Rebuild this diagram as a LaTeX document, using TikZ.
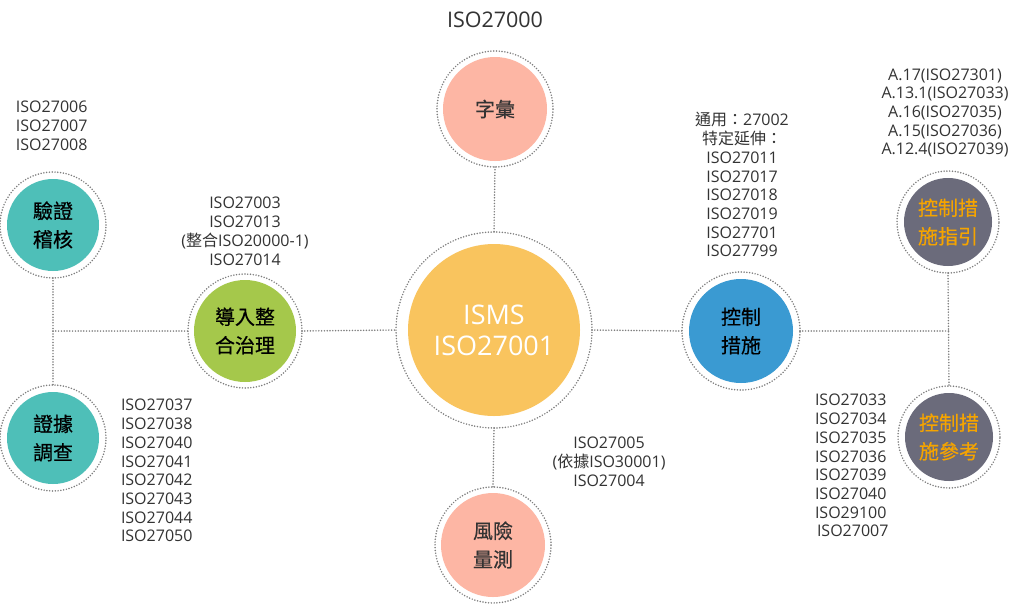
\documentclass[tikz,border=0pt]{standalone}
\usepackage{fontspec}
\setmainfont{Open Sans}
\newfontfamily\cjk{Noto Sans CJK TC}
\newfontfamily\cjkb[FakeBold=0.45]{Noto Sans CJK TC}
\definecolor{txtc}{HTML}{333333}
\definecolor{dotc}{HTML}{7E7E7E}
\definecolor{cC}{HTML}{F9C45E}
\definecolor{cS}{HTML}{FDB6A4}
\definecolor{cT}{HTML}{4EBFB8}
\definecolor{cG}{HTML}{A5C84B}
\definecolor{cB}{HTML}{3A9AD2}
\definecolor{cD}{HTML}{6B6B7B}
\definecolor{cO}{HTML}{F5A400}
\begin{document}
\begin{tikzpicture}[x=1pt,y=-1pt,
  txt/.style={text=txtc, inner sep=0pt, outer sep=0pt, font=\fontsize{16}{18.7}\selectfont},
  disc/.style={circle, fill=#1, inner sep=0pt, outer sep=0pt},
  ctext/.style={font=\cjkb\fontsize{20}{28.5}\selectfont, align=center},
  ringnode/.style={circle, draw=dotc, line width=1.7pt, dash pattern=on 0pt off 2.8pt, line cap=round, inner sep=0pt, outer sep=0pt},
  link/.style={draw=dotc, line width=1.7pt, dash pattern=on 0pt off 2.8pt, line cap=round},
]
\useasboundingbox[fill=white] (0,0) rectangle (1024,606);

% title
\node[txt, font=\fontsize{21.5}{24}\selectfont] (title) at (495,20) {ISO27000};

% central
\node[ringnode, minimum size=196pt] (rC) at (494,330) {};
\node[disc=cC, minimum size=172pt, text=white, font=\fontsize{27}{31}\selectfont, align=center] (C) at (494,330) {ISMS\\ISO27001};

% top
\node[ringnode, minimum size=116pt] (rT) at (495,109) {};
\node[disc=cS, minimum size=104pt, text=txtc, ctext] (T) at (495,109) {字彙};

% bottom
\node[ringnode, minimum size=116pt] (rB) at (493,545) {};
\node[disc=cS, minimum size=104pt, text=txtc, ctext] (B) at (493,545) {風險\\量測};

% left top
\node[ringnode, minimum size=106pt] (rV) at (53,225) {};
\node[disc=cT, minimum size=92pt, text=black, ctext] (V) at (53,225) {驗證\\稽核};

% left bottom
\node[ringnode, minimum size=106pt] (rE) at (53,438) {};
\node[disc=cT, minimum size=92pt, text=black, ctext] (E) at (53,438) {證據\\調查};

% green
\node[ringnode, minimum size=114pt] (rG) at (245,331) {};
\node[disc=cG, minimum size=102pt, text=black, ctext] (G) at (245,331) {導入整\\合治理};

% blue
\node[ringnode, minimum size=118pt] (rK) at (741,331) {};
\node[disc=cB, minimum size=104pt, text=black, ctext] (K) at (741,331) {控制\\措施};

% dark top
\node[ringnode, minimum size=102pt] (rD1) at (948,222) {};
\node[disc=cD, minimum size=88pt, text=cO, ctext] (D1) at (948,222) {控制措\\施指引};

% dark bottom
\node[ringnode, minimum size=102pt] (rD2) at (949,437) {};
\node[disc=cD, minimum size=88pt, text=cO, ctext] (D2) at (949,437) {控制措\\施參考};

% junctions
\coordinate (jL) at (53,331);
\coordinate (jR) at (948.5,331);

% links
\draw[link] (rT.south) -- (rC.north);
\draw[link] (rC.south) -- (rB.north);
\draw[link] (rG.east) -- (rC.west);
\draw[link] (rC.east) -- (rK.west);
\draw[link] (rV.south) -- (rE.north);
\draw[link] (jL) -- (rG.west);
\draw[link] (rD1.south) -- (rD2.north);
\draw[link] (rK.east) -- (jR);

% text blocks
\node[txt, align=left, anchor=north west] (tV) at (16,101.3) {ISO27006\\ISO27007\\ISO27008};
\node[txt, align=center, anchor=north] (tG) at (245,197.3) {ISO27003\\ISO27013\\({\cjk 整合}ISO20000-1)\\ISO27014};
\node[txt, align=left, anchor=north west] (tE) at (121,399.3) {ISO27037\\ISO27038\\ISO27040\\ISO27041\\ISO27042\\ISO27043\\ISO27044\\ISO27050};
\node[txt, align=center, anchor=north] (tB) at (609,437.3) {ISO27005\\({\cjk 依據}ISO30001)\\ISO27004};
\node[txt, align=center, anchor=north] (tD1) at (945,68.5) {A.17(ISO27301)\\A.13.1(ISO27033)\\A.16(ISO27035)\\A.15(ISO27036)\\A.12.4(ISO27039)};
\node[txt, align=center, anchor=north] (tK) at (742,112.5) {{\cjk 通用：}27002\\{\cjk 特定延伸：}\\ISO27011\\ISO27017\\ISO27018\\ISO27019\\ISO27701\\ISO27799};
\node[txt, align=left, anchor=north west] (tD2) at (815,394.3) {ISO27033\\ISO27034\\ISO27035\\ISO27036\\ISO27039\\ISO27040\\ISO29100\\\hspace{2pt}ISO27007};
\end{tikzpicture}
\end{document}
